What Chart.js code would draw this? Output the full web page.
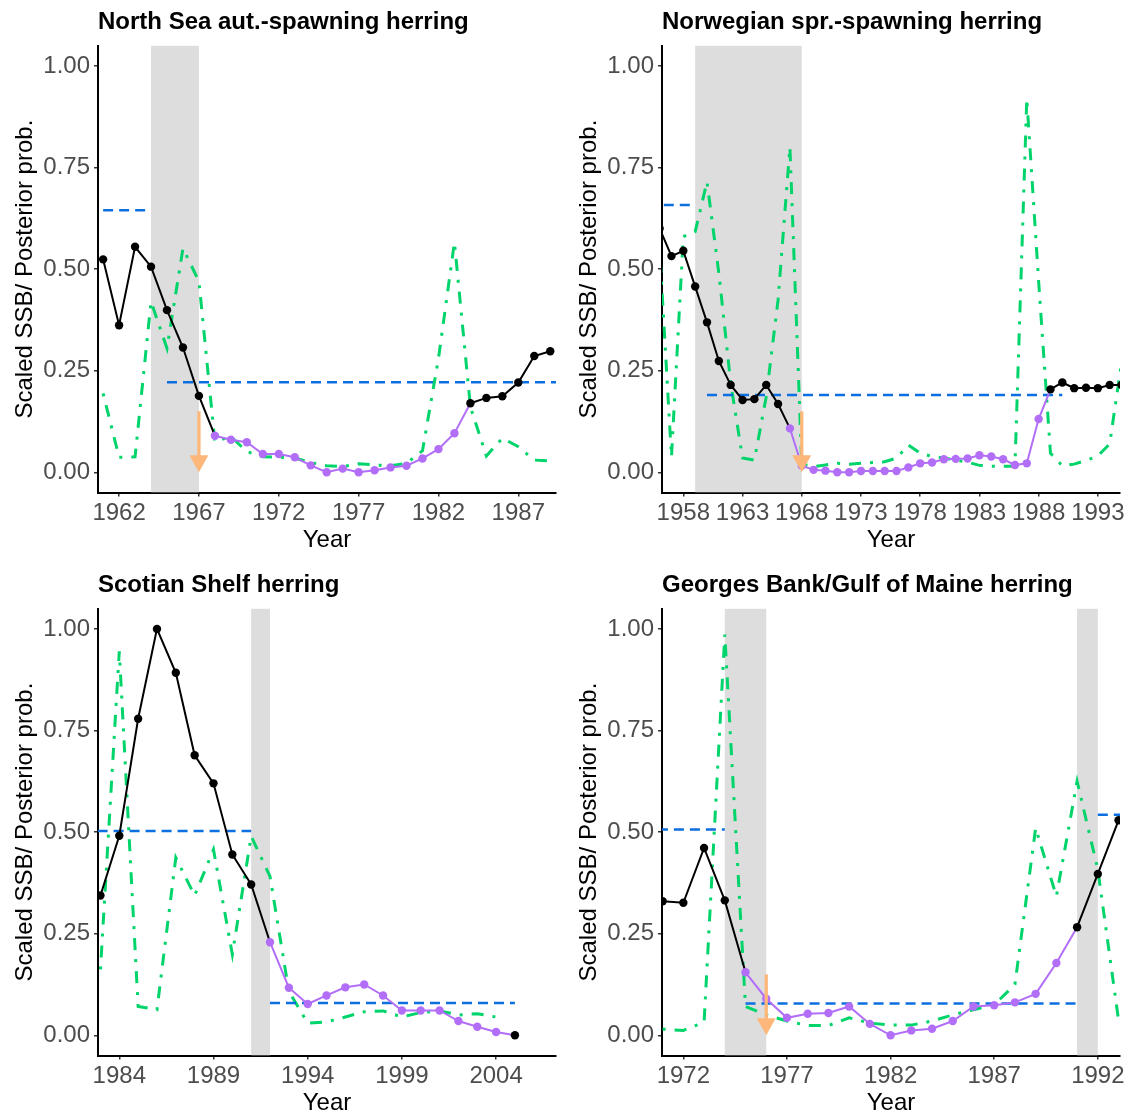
<!DOCTYPE html>
<html>
<head>
<meta charset="utf-8">
<script src="https://cdn.jsdelivr.net/npm/chart.js@4.4.1/dist/chart.umd.min.js"></script>
<style>
  html, body { margin: 0; padding: 0; background: #ffffff; overflow: hidden; width: 1127px; height: 1113px; }
  .panel { position: absolute; width: 563px; height: 560px; }
  canvas { display: block; }
</style>
</head>
<body>
<div class="panel" style="left:0px;top:0px"><canvas id="ns" width="563" height="560"></canvas></div>
<div class="panel" style="left:564px;top:0px"><canvas id="no" width="563" height="560"></canvas></div>
<div class="panel" style="left:0px;top:563px"><canvas id="ss" width="563" height="560"></canvas></div>
<div class="panel" style="left:564px;top:563px"><canvas id="gb" width="563" height="560"></canvas></div>
<script>
// ---------- North Sea autumn-spawning herring ----------
const nsYears = [1961,1962,1963,1964,1965,1966,1967,1968,1969,1970,1971,1972,1973,1974,1975,1976,1977,1978,1979,1980,1981,1982,1983,1984,1985,1986,1987,1988,1989];
const nsSSB   = [0.524,0.362,0.555,0.506,0.399,0.307,0.188,0.090,0.080,0.074,0.045,0.045,0.037,0.017,0.000,0.009,0.000,0.005,0.012,0.016,0.034,0.057,0.096,0.170,0.183,0.187,0.221,0.286,0.298];
const nsProb  = [0.194,0.037,0.038,0.420,0.305,0.551,0.470,0.075,0.088,0.051,0.038,0.037,0.035,0.024,0.016,0.014,0.021,0.018,0.016,0.022,0.053,0.280,0.566,0.161,0.040,0.084,0.063,0.030,0.028];
const nsLowRegime = [1968, 1983];
const nsMeans = [[1960, 1964, 0.645], [1965, 1990, 0.2215]];
const nsShade = [[1964, 1967]];
const nsArrow = [1967];
const nsTicks = [1962, 1967, 1972, 1977, 1982, 1987];
const nsRange = [1960.68, 1989.36];

// ---------- Norwegian spring-spawning herring ----------
const noYears = [1956,1957,1958,1959,1960,1961,1962,1963,1964,1965,1966,1967,1968,1969,1970,1971,1972,1973,1974,1975,1976,1977,1978,1979,1980,1981,1982,1983,1984,1985,1986,1987,1988,1989,1990,1991,1992,1993,1994,1995];
const noSSB   = [0.600,0.532,0.545,0.457,0.369,0.274,0.215,0.178,0.180,0.215,0.168,0.108,0.016,0.006,0.004,0.000,0.000,0.003,0.003,0.003,0.003,0.012,0.022,0.024,0.032,0.033,0.034,0.042,0.039,0.032,0.018,0.022,0.131,0.204,0.221,0.207,0.208,0.207,0.215,0.215];
const noProb  = [0.550,0.038,0.580,0.592,0.715,0.490,0.220,0.035,0.030,0.186,0.424,0.800,0.020,0.014,0.018,0.022,0.020,0.022,0.024,0.026,0.035,0.067,0.047,0.039,0.035,0.030,0.025,0.017,0.015,0.015,0.015,0.920,0.470,0.047,0.016,0.020,0.029,0.040,0.070,0.270];
const noLowRegime = [1967, 1988];
const noMeans = [[1955, 1959, 0.658], [1960, 1990, 0.19]];
const noShade = [[1959, 1968]];
const noArrow = [1968];
const noTicks = [1958, 1963, 1968, 1973, 1978, 1983, 1988, 1993];
const noRange = [1956.2, 1994.87];

// ---------- Scotian Shelf herring ----------
const ssYears = [1983,1984,1985,1986,1987,1988,1989,1990,1991,1992,1993,1994,1995,1996,1997,1998,1999,2000,2001,2002,2003,2004,2005];
const ssSSB   = [0.344,0.491,0.779,1.000,0.892,0.689,0.620,0.445,0.371,0.229,0.117,0.077,0.098,0.118,0.125,0.098,0.061,0.061,0.061,0.035,0.021,0.008,0.000];
const ssProb  = [0.162,0.945,0.071,0.063,0.437,0.344,0.457,0.199,0.490,0.391,0.108,0.030,0.033,0.045,0.058,0.060,0.045,0.056,0.060,0.050,0.053,0.045,null];
const ssLowRegime = [1992, 2004];
const ssMeans = [[1982, 1991, 0.503], [1992, 2005, 0.0797]];
const ssShade = [[1991, 1992]];
const ssArrow = [];
const ssTicks = [1984, 1989, 1994, 1999, 2004];
const ssRange = [1982.87, 2007.18];

// ---------- Georges Bank / Gulf of Maine herring ----------
const gbYears = [1971,1972,1973,1974,1975,1976,1977,1978,1979,1980,1981,1982,1983,1984,1985,1986,1987,1988,1989,1990,1991,1992,1993];
const gbSSB   = [0.330,0.326,0.461,0.332,0.155,0.090,0.043,0.053,0.055,0.071,0.028,0.000,0.012,0.016,0.035,0.071,0.074,0.081,0.102,0.178,0.266,0.397,0.529];
const gbProb  = [0.015,0.012,0.032,0.986,0.071,0.050,0.035,0.024,0.024,0.043,0.030,0.025,0.025,0.035,0.050,0.063,0.075,0.125,0.510,0.342,0.625,0.408,0.037];
const gbLowRegime = [1975, 1990];
const gbMeans = [[1970, 1974, 0.5066], [1975, 1991, 0.078], [1992, 1994, 0.543]];
const gbShade = [[1974, 1976], [1991, 1992]];
const gbArrow = [1976];
const gbTicks = [1972, 1977, 1982, 1987, 1992];
const gbRange = [1970.97, 1993.07];

const yTicks = [0, 0.25, 0.5, 0.75, 1.0];

// ---------- styling ----------
const BLACK = '#000000';
const PURPLE = '#B26EF7';
const GREEN = '#00D46A';
const BLUE = '#0B6FE0';
const ORANGE = '#FDB77A';
const SHADE = '#DDDDDD';
const FONT = "'Liberation Sans', Arial, Helvetica, sans-serif";

Chart.defaults.font.family = FONT;

// Shaded intervals behind the series, arrows on top of them
const panelDecor = {
  id: 'panelDecor',
  beforeDatasetsDraw(chart, args, opts) {
    const { ctx, chartArea: a, scales: { x } } = chart;
    ctx.save();
    ctx.beginPath();
    ctx.rect(a.left, a.top, a.right - a.left, a.bottom - a.top);
    ctx.clip();
    ctx.fillStyle = SHADE;
    for (const [x0, x1] of opts.shades) {
      const p0 = x.getPixelForValue(x0);
      const p1 = x.getPixelForValue(x1);
      ctx.fillRect(p0, a.top, p1 - p0, a.bottom - a.top);
    }
    ctx.restore();
  },
  afterDatasetsDraw(chart, args, opts) {
    const { ctx, scales: { x, y } } = chart;
    ctx.save();
    ctx.fillStyle = ORANGE;
    ctx.strokeStyle = ORANGE;
    for (const yr of opts.arrows) {
      const px = x.getPixelForValue(yr);
      const yStart = y.getPixelForValue(0.15);
      const yTip = y.getPixelForValue(0);
      const headH = 17, headW = 9.5;
      ctx.lineWidth = 3.3;
      ctx.beginPath();
      ctx.moveTo(px, yStart);
      ctx.lineTo(px, yTip - headH + 1);
      ctx.stroke();
      ctx.beginPath();
      ctx.moveTo(px - headW, yTip - headH);
      ctx.lineTo(px + headW, yTip - headH);
      ctx.lineTo(px, yTip);
      ctx.closePath();
      ctx.fill();
    }
    ctx.restore();
  }
};

function makePanel(id, title, years, ssb, prob, lowRegime, means, shades, arrows, xTicks, xRange) {
  const isLow = yr => yr >= lowRegime[0] && yr <= lowRegime[1];
  const pointColors = years.map(yr => isLow(yr) ? PURPLE : BLACK);

  const datasets = [];
  datasets.push({
    data: years.map((yr, i) => ({ x: yr, y: ssb[i] })),
    borderColor: BLACK,
    borderWidth: 2,
    pointRadius: 4.2,
    pointBorderWidth: 0,
    pointBackgroundColor: pointColors,
    pointBorderColor: pointColors,
    segment: { borderColor: c => isLow(c.p0.parsed.x) ? PURPLE : BLACK },
    tension: 0,
    clip: 0
  });
  for (const [x0, x1, level] of means) {
    datasets.push({
      data: [{ x: x0, y: level }, { x: x1, y: level }],
      borderColor: BLUE,
      borderWidth: 2.5,
      borderDash: [10, 6],
      pointRadius: 0,
      tension: 0,
      clip: 0
    });
  }
  datasets.push({
    data: years.map((yr, i) => ({ x: yr, y: prob[i] })),
    borderColor: GREEN,
    borderWidth: 3,
    borderDash: [3, 9, 12, 9],
    pointRadius: 0,
    tension: 0,
    spanGaps: false,
    clip: 0
  });

  return new Chart(document.getElementById(id), {
    type: 'line',
    data: { datasets },
    plugins: [panelDecor],
    options: {
      responsive: false,
      devicePixelRatio: 1,
      animation: false,
      events: [],
      layout: { padding: { left: 0, right: 7, top: 0, bottom: 0 } },
      plugins: {
        legend: { display: false },
        tooltip: { enabled: false },
        title: {
          display: true,
          text: title,
          align: 'start',
          fullSize: false,
          color: '#000000',
          font: { size: 24, weight: 'bold', family: FONT, lineHeight: 1.2 },
          padding: { top: 8.1, bottom: 8.7 }
        },
        panelDecor: { shades, arrows }
      },
      scales: {
        x: {
          type: 'linear',
          min: xRange[0],
          max: xRange[1],
          z: 1,
          afterBuildTicks: s => { s.ticks = xTicks.map(v => ({ value: v })); },
          afterFit: s => { s.height = 67.4; s.paddingLeft = 0; s.paddingRight = 0; s.paddingTop = 0; s.paddingBottom = 0; },
          ticks: {
            color: '#4D4D4D',
            font: { size: 24, family: FONT },
            padding: 2.5,
            maxRotation: 0,
            autoSkip: false,
            callback: v => String(v)
          },
          grid: { drawOnChartArea: false, drawTicks: true, tickLength: 4, color: '#333333', lineWidth: 1.5 },
          border: { display: true, color: '#000000', width: 2 },
          title: {
            display: true,
            text: 'Year',
            color: '#000000',
            font: { size: 24, family: FONT, lineHeight: 1.2 },
            padding: { top: 0, bottom: 5.6 }
          }
        },
        y: {
          type: 'linear',
          min: -0.05,
          max: 1.05,
          z: 1,
          afterBuildTicks: s => { s.ticks = yTicks.map(v => ({ value: v })); },
          afterFit: s => { s.width = 98; s.paddingLeft = 0; s.paddingRight = 0; s.paddingTop = 0; s.paddingBottom = 0; },
          ticks: {
            color: '#4D4D4D',
            font: { size: 24, family: FONT },
            padding: 4,
            autoSkip: false,
            callback: v => v.toFixed(2)
          },
          grid: { drawOnChartArea: false, drawTicks: true, tickLength: 4, color: '#333333', lineWidth: 1.5 },
          border: { display: true, color: '#000000', width: 2 },
          title: {
            display: true,
            text: 'Scaled SSB/ Posterior prob.',
            color: '#000000',
            font: { size: 24, family: FONT, lineHeight: 1.2 },
            padding: { top: 11.2, bottom: 0 }
          }
        }
      }
    }
  });
}

makePanel('ns', 'North Sea aut.-spawning herring', nsYears, nsSSB, nsProb, nsLowRegime, nsMeans, nsShade, nsArrow, nsTicks, nsRange);
makePanel('no', 'Norwegian spr.-spawning herring', noYears, noSSB, noProb, noLowRegime, noMeans, noShade, noArrow, noTicks, noRange);
makePanel('ss', 'Scotian Shelf herring', ssYears, ssSSB, ssProb, ssLowRegime, ssMeans, ssShade, ssArrow, ssTicks, ssRange);
makePanel('gb', 'Georges Bank/Gulf of Maine herring', gbYears, gbSSB, gbProb, gbLowRegime, gbMeans, gbShade, gbArrow, gbTicks, gbRange);
</script>
</body>
</html>
